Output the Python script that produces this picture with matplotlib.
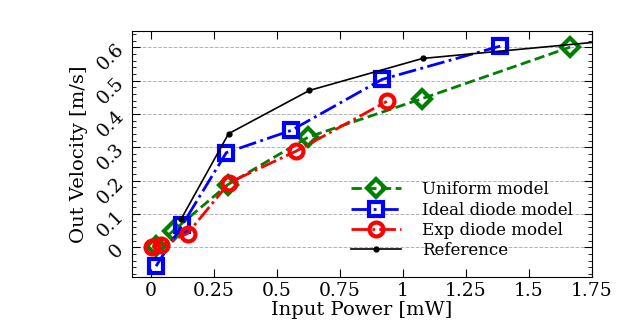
import numpy as np
import matplotlib
matplotlib.use('Agg')
import matplotlib.pyplot as plt
from matplotlib.ticker import MultipleLocator

plt.rcParams['font.family'] = 'DejaVu Serif'

# data
uniform_x = [0.021, 0.088, 0.305, 0.625, 1.075, 1.664]
uniform_y = [0.004, 0.049, 0.188, 0.331, 0.446, 0.601]

ideal_x = [0.02, 0.125, 0.299, 0.557, 0.917, 1.386]
ideal_y = [-0.057, 0.068, 0.284, 0.351, 0.504, 0.604]

exp_x = [0.005, 0.04, 0.145, 0.311, 0.577, 0.936]
exp_y = [0.001, 0.006, 0.041, 0.194, 0.289, 0.438]

ref_x = [0.12, 0.308, 0.629, 1.078, 1.765]
ref_y = [0.085, 0.341, 0.471, 0.567, 0.616]

fig = plt.figure(figsize=(6.23, 3.28), dpi=100)
ax = fig.add_axes([0.212, 0.155, 0.738, 0.751])

ax.plot(uniform_x, uniform_y, '--', color='green', marker='D', ms=9, mew=3,
        mfc='none', lw=2, label='Uniform model', zorder=3)
ax.plot(ideal_x, ideal_y, '-.', color='blue', marker='s', ms=10, mew=3,
        mfc='none', lw=2, label='Ideal diode model', zorder=3)
ax.plot(exp_x, exp_y, color='red', marker='o', ms=10, mew=3, mfc='none', lw=2,
        dashes=[6, 1.5, 1, 1.5], label='Exp diode model', zorder=3)
ax.plot(ref_x, ref_y, '-', color='black', marker='.', ms=7, lw=1.2,
        label='Reference', zorder=4)

ax.set_xlim(-0.075, 1.75)
ax.set_ylim(-0.09, 0.65)
ax.set_xticks([0, 0.25, 0.5, 0.75, 1, 1.25, 1.5, 1.75])
ax.set_xticklabels(['0', '0.25', '0.5', '0.75', '1', '1.25', '1.5', '1.75'])
ax.set_yticks([0, 0.1, 0.2, 0.3, 0.4, 0.5, 0.6])
ax.set_yticklabels(['0', '0.1', '0.2', '0.3', '0.4', '0.5', '0.6'], rotation=45)
ax.yaxis.set_minor_locator(MultipleLocator(0.02))
ax.tick_params(which='both', direction='in', top=True, right=True, labelsize=13.5)
ax.tick_params(which='major', length=6)
ax.tick_params(which='minor', length=3)
ax.grid(axis='y', which='major', linestyle='--', color='gray', lw=0.7, alpha=0.6)

ax.set_xlabel('Input Power [mW]', fontsize=14, labelpad=1)
ax.set_ylabel('Out Velocity [m/s]', fontsize=14)

ax.legend(loc='upper left', bbox_to_anchor=(0.443, 0.45), frameon=False,
          fontsize=12, handlelength=3, handletextpad=1.3, labelspacing=0.2)

fig.savefig('out.png', dpi=100)
